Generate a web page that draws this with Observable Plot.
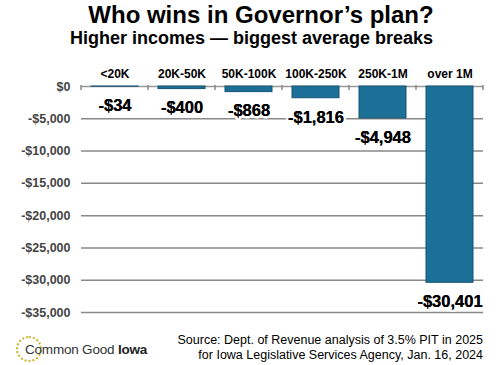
<!DOCTYPE html>
<html>
<head>
<meta charset="utf-8">
<script src="https://cdn.jsdelivr.net/npm/d3@7"></script>
<script src="https://cdn.jsdelivr.net/npm/@observablehq/plot@0.6"></script>
<style>
  body { margin: 0; background: #fff; font-family: "Liberation Sans", Arial, sans-serif; }
  #wrap { position: relative; width: 500px; height: 365px; overflow: hidden; }
  #chart { position: absolute; left: 0; top: 0; }
  .title { position: absolute; left: 0; width: 522px; top: 1px; text-align: center; font-weight: bold; font-size: 24px; color: #000; }
  .subtitle { position: absolute; left: 0; width: 503px; top: 28px; text-align: center; font-weight: bold; font-size: 18px; color: #000; }
  .source { position: absolute; right: 17px; top: 333px; text-align: right; font-size: 12.5px; line-height: 15px; color: #000; }
  .logo { position: absolute; left: 16px; top: 336px; height: 26px; }
  .logo .ring { position: absolute; left: 0; top: 0; width: 22px; height: 22px; border-radius: 50%; border: 2px dotted #c9b52a; }
  .logo .txt { position: absolute; left: 9px; top: 6px; font-family: "Liberation Sans", Arial, sans-serif; font-size: 13.5px; color: #333; white-space: nowrap; letter-spacing: -0.2px; }
  .logo .txt b { color: #222; }
</style>
</head>
<body>
<div id="wrap">
  <div id="chart"></div>
  <div class="title">Who wins in Governor’s plan?</div>
  <div class="subtitle">Higher incomes — biggest average breaks</div>
  <div class="logo"><div class="ring"></div><div class="txt">Common Good <b>Iowa</b></div></div>
  <div class="source">Source: Dept. of Revenue analysis of 3.5% PIT in 2025<br>for Iowa Legislative Services Agency, Jan. 16, 2024</div>
</div>
<script>
const categories = ["<20K", "20K-50K", "50K-100K", "100K-250K", "250K-1M", "over 1M"];
const values = [-34, -400, -868, -1816, -4948, -30401];
const yTicks = [0, -5000, -10000, -15000, -20000, -25000, -30000, -35000];

const data = categories.map((c, i) => ({category: c, value: values[i]}));
const money = d => d === 0 ? "$0" : (d < 0 ? "-$" : "$") + d3.format(",")(Math.abs(d));

const boundaryTicks = (index, scales, vals, dims) => {
  const x = scales.x, y0 = scales.y(0);
  const g = d3.create("svg:g").attr("stroke", "#888").attr("stroke-width", 1.5);
  const step = x.step ? x.step() : (dims.width - dims.marginLeft - dims.marginRight) / categories.length;
  const bw = x.bandwidth ? x.bandwidth() : step * 0.7;
  const starts = categories.map(c => x(c) - (step - bw) / 2);
  starts.push(starts[starts.length - 1] + step);
  for (const sx of starts) {
    g.append("line").attr("x1", sx).attr("x2", sx).attr("y1", y0 - 1).attr("y2", y0 + 4);
  }
  return g.node();
};

const chart = Plot.plot({
  width: 500,
  height: 365,
  marginLeft: 81,
  marginRight: 17,
  marginTop: 86,
  marginBottom: 53,
  style: {fontFamily: "'Liberation Sans', Arial, sans-serif", background: "transparent"},
  x: {domain: categories, paddingInner: 0.3, paddingOuter: 0.15, axis: null, label: null},
  y: {domain: [-35000, 0], ticks: yTicks, axis: null, label: null},
  marks: [
    Plot.gridY(yTicks.filter(d => d !== 0), {stroke: "#888", strokeOpacity: 1, strokeWidth: 1.5}),
    Plot.ruleY([0], {stroke: "#999", strokeWidth: 1.5}),
    boundaryTicks,
    Plot.text(data, {x: "category", y: "value", text: d => money(d.value), dy: 19, fontSize: 16.5, fontWeight: "bold", fill: "#000", stroke: "white", strokeWidth: 5, lineAnchor: "middle"}),
    Plot.barY(data, {x: "category", y: "value", fill: "#1c6f97", stroke: "#145471", strokeWidth: 1}),
    Plot.axisY(yTicks, {tickSize: 0, tickPadding: 11, tickFormat: money, fontSize: 12.5, fontWeight: "bold", fill: "#444", label: null}),
    Plot.axisX({anchor: "top", tickSize: 0, tickPadding: 9, fontSize: 12, fontWeight: "bold", fill: "#000", label: null}),
    Plot.text(data, {x: "category", y: "value", text: d => money(d.value), dy: 19, fontSize: 16.5, fontWeight: "bold", fill: "#000", lineAnchor: "middle"})
  ]
});
document.getElementById("chart").appendChild(chart);
</script>
</body>
</html>
